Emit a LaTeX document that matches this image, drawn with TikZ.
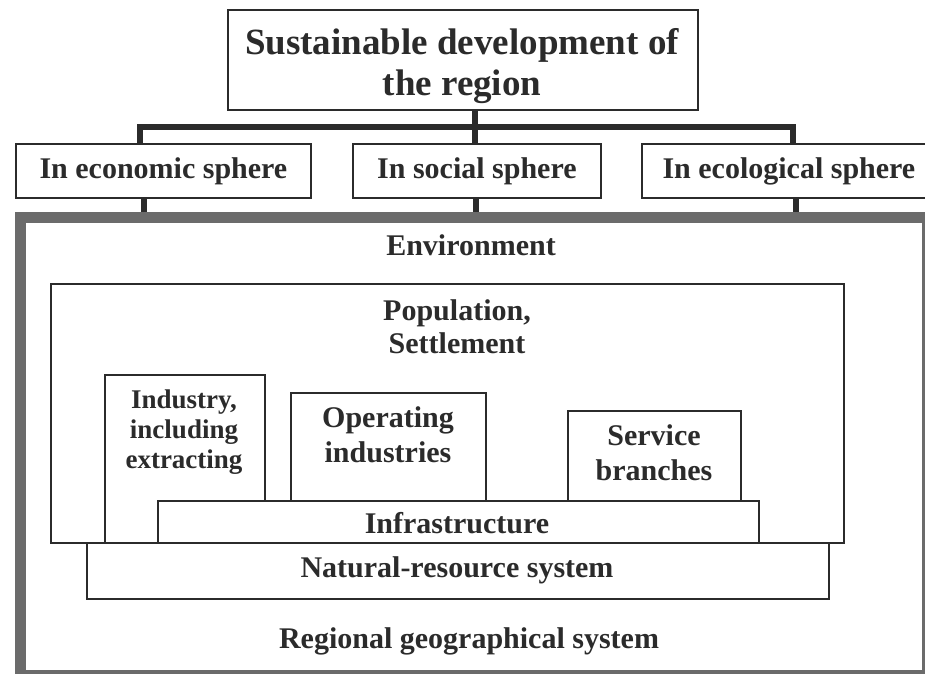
\documentclass[tikz,border=0pt]{standalone}
\usepackage{fontspec}
\setmainfont{Liberation Serif}
\usetikzlibrary{calc}
\definecolor{ink}{HTML}{2B2B2B}
\definecolor{framegray}{HTML}{6B6B6B}
\begin{document}
\begin{tikzpicture}[x=1pt,y=-1pt,
  box/.style={draw=ink, line width=1.8pt, fill=white, inner sep=0pt, anchor=north west,
    text=ink, font=\bfseries\fontsize{30}{33}\selectfont, align=center},
  lbl/.style={text=ink, font=\bfseries\fontsize{30}{33}\selectfont, inner sep=0pt, align=center},
  link/.style={draw=ink, line width=6pt, line join=miter}]
\useasboundingbox (0,0) rectangle (925,673);
\fill[white] (0,0) rectangle (925,673);

% top level
\node[box, minimum width=470pt, minimum height=100pt] (title) at (227,9) {};
\node[lbl, font=\bfseries\fontsize{37}{41}\selectfont] (titlet) at (462,66)
  {Sustainable development of\\the region};

% spheres
\node[box, minimum width=295pt, minimum height=54pt] (eco) at (15,143) {In economic sphere};
\node[box, minimum width=248pt, minimum height=54pt] (soc) at (352,143) {In social sphere};
\node[box, minimum width=294pt, minimum height=54pt] (ecl) at (641,143) {In ecological sphere};

% outer frame
\node[draw=framegray, line width=11pt, minimum width=907pt, minimum height=458pt,
  anchor=north west, inner sep=0pt] (geo) at (15,212) {};

% connectors
\coordinate (jl) at (140,127);
\coordinate (jm) at (475,127);
\coordinate (jr) at (793,127);
\draw[link] (eco.north -| jl) -- (jl) -- (jr) -- (ecl.north -| jr);
\draw[link] (title.south -| jm) -- (soc.north -| jm);
\coordinate (dl) at (144,0);
\coordinate (dm) at (476,0);
\coordinate (dr) at (796,0);
\draw[link] (eco.south -| dl) -- (geo.north -| dl);
\draw[link] (soc.south -| dm) -- (geo.north -| dm);
\draw[link] (ecl.south -| dr) -- (geo.north -| dr);

% nested boxes
\node[box, minimum width=793pt, minimum height=259pt] (pop) at (50,283) {};
\node[box, minimum width=160pt, minimum height=168pt] (ind) at (104,374) {};
\node[box, minimum width=195pt, minimum height=108pt] (ope) at (290,392) {};
\node[box, minimum width=173pt, minimum height=90pt] (ser) at (567,410) {};
\node[box, minimum width=601pt, minimum height=42pt] (inf) at (157,500) {};
\node[box, minimum width=742pt, minimum height=56pt] (nat) at (86,542) {};

% texts
\node[lbl, anchor=base] (envt) at (471,255) {Environment};
\node[lbl] (popt) at (457,327) {Population,\\Settlement};
\node[lbl, font=\bfseries\fontsize{27}{30}\selectfont] (indt) at (184,432) {Industry,\\including\\extracting};
\node[lbl, font=\bfseries\fontsize{30}{35}\selectfont] (opet) at (388,435) {Operating\\industries};
\node[lbl, font=\bfseries\fontsize{30}{35}\selectfont] (sert) at (654,453) {Service\\branches};
\node[lbl, anchor=base] (inft) at (457,533) {Infrastructure};
\node[lbl, anchor=base] (natt) at (457,577) {Natural-resource system};
\node[lbl, anchor=base] (regt) at (469,648) {Regional geographical system};
\end{tikzpicture}
\end{document}
